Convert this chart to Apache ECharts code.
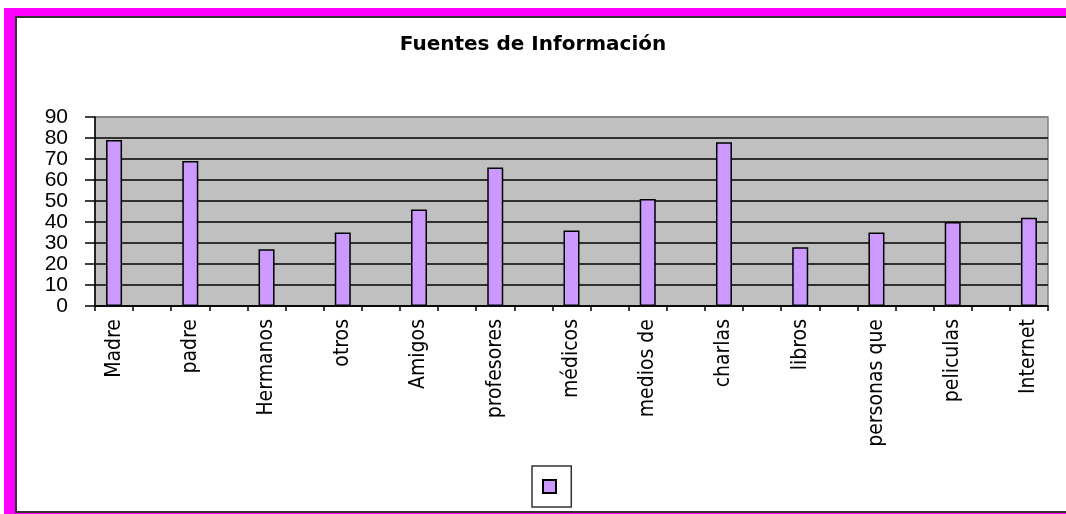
<!DOCTYPE html>
<html>
<head>
<meta charset="utf-8">
<script src="https://cdn.jsdelivr.net/npm/echarts@6/dist/echarts.min.js"></script>
<style>
	body { margin: 0; background: #fff; }
	#frame { position: absolute; left: 4px; top: 8px; width: 1062px; height: 506px; background: #ff00ff; }
	#inner { position: absolute; left: 15px; top: 16px; width: 1051px; height: 497px; box-sizing: border-box;
		background: #fff; border-left: 2px solid #333; border-top: 2px solid #333; border-bottom: 2px solid #333; }
	#chart { position: absolute; left: 0; top: 0; width: 1066px; height: 514px; }
</style>
</head>
<body>
<div id="frame"></div>
<div id="inner"></div>
<div id="chart"></div>
<script>
// fuentes y porcentajes
var fuentes = ['Madre', 'padre', 'Hermanos', 'otros', 'Amigos', 'profesores', 'médicos',
	'medios de', 'charlas', 'libros', 'personas que', 'peliculas', 'Internet'];
var valores = [79, 69, 27, 35, 46, 66, 36, 51, 78, 28, 35, 40, 42];
var yTicks = [0, 10, 20, 30, 40, 50, 60, 70, 80, 90];

// en el original cada barra ocupa una categoria de cada dos
var categorias = [];
var datos = [];
fuentes.forEach(function (f, i) {
	categorias.push(f);
	datos.push(valores[i]);
	if (i < fuentes.length - 1) {
		categorias.push('');
		datos.push(null);
	}
});

var chart = echarts.init(document.getElementById('chart'));
chart.setOption({
	animation: false,
	title: {
		text: 'Fuentes de Información',
		left: 'center',
		top: 30,
		textStyle: {
			fontFamily: 'DejaVu Sans',
			fontWeight: 'bold',
			fontSize: 20,
			color: '#000'
		}
	},
	legend: {
		left: 532,
		top: 466,
		padding: [13, 10, 13, 10],
		itemWidth: 13,
		itemHeight: 13,
		borderColor: '#333',
		borderWidth: 1.5,
		selectedMode: false,
		data: [{ name: ' ', icon: 'rect' }],
		textStyle: { fontSize: 1 }
	},
	grid: {
		left: 95,
		top: 117,
		right: 18,
		bottom: 208,
		show: true,
		backgroundColor: '#c0c0c0',
		borderColor: '#808080',
		borderWidth: 1.5
	},
	xAxis: {
		type: 'category',
		data: categorias,
		boundaryGap: true,
		axisLine: { lineStyle: { color: '#000', width: 1.5 } },
		axisTick: { show: true, interval: 0, length: 5, lineStyle: { color: '#000', width: 1.5 } },
		axisLabel: {
			interval: 0,
			rotate: 90,
			margin: 13,
			color: '#000',
			fontFamily: 'DejaVu Sans Condensed',
			fontSize: 21
		}
	},
	yAxis: {
		type: 'value',
		min: yTicks[0],
		max: yTicks[yTicks.length - 1],
		interval: 10,
		axisLine: { show: true, lineStyle: { color: '#000', width: 1.5 } },
		axisTick: { show: true, length: 10, lineStyle: { color: '#000', width: 1.5 } },
		axisLabel: {
			margin: 27,
			color: '#000',
			fontFamily: 'Liberation Sans',
			fontSize: 21
		},
		splitLine: {
			lineStyle: {
				color: ['#000', '#000', '#000', '#000', '#000', '#000', '#000', '#000', '#000', '#808080'],
				width: 1.5
			}
		}
	},
	series: [
		{
			name: ' ',
			type: 'bar',
			data: datos,
			barWidth: 16,
			itemStyle: {
				color: '#cc99ff',
				borderColor: '#000',
				borderWidth: 1.5
			}
		}
	]
});
</script>
</body>
</html>
